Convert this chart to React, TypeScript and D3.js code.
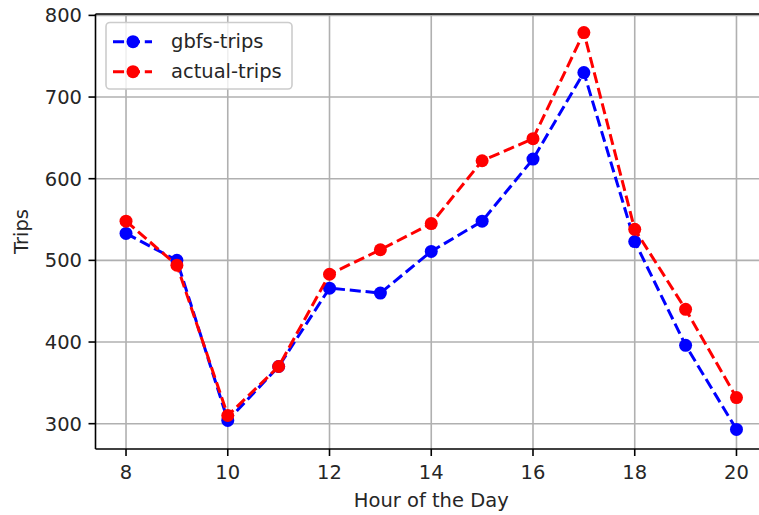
import React from "react";
import * as d3 from "d3";

const hours = [8, 9, 10, 11, 12, 13, 14, 15, 16, 17, 18, 19, 20];
const gbfsTrips = [533, 500, 304, 370, 466, 460, 511, 548, 624, 730, 523, 396, 293];
const actualTrips = [548, 494, 310, 370, 483, 513, 545, 622, 649, 779, 538, 440, 332];
const xTicks = [8, 10, 12, 14, 16, 18, 20];
const yTicks = [300, 400, 500, 600, 700, 800];

const W = 759;
const H = 515;
const FONT = "DejaVu Sans, sans-serif";
const TEXT = "#262626";

export default function App() {
  // axes box, right edge falls outside the picture
  const left = 95.5, right = 767, top = 14, bottom = 449;
  const x = d3.scaleLinear().domain([7.4, 20.6]).range([left, right]);
  const y = d3.scaleLinear().domain([269, 801.7]).range([bottom, top]);

  const line = d3.line<number>()
    .x((_, i) => x(hours[i]))
    .y((d) => y(d));

  const series = [
    { name: "gbfs-trips", values: gbfsTrips, color: "#0000ff" },
    { name: "actual-trips", values: actualTrips, color: "#ff0000" },
  ];

  const dash = "11.1,4.8";

  return (
    <svg width={W} height={H} style={{ position: "absolute", left: 0, top: 0, background: "#fff" }}
      fontFamily={FONT}>
      <defs>
        <clipPath id="plot">
          <rect x={left} y={top} width={right - left} height={bottom - top} />
        </clipPath>
      </defs>

      {/* grid */}
      <g stroke="#b0b0b0" strokeWidth={1.6}>
        {xTicks.map((t) => (
          <line key={"gx" + t} x1={x(t)} x2={x(t)} y1={top} y2={bottom} />
        ))}
        {yTicks.map((t) => (
          <line key={"gy" + t} x1={left} x2={right} y1={y(t)} y2={y(t)} />
        ))}
      </g>

      {/* data */}
      <g clipPath="url(#plot)">
        {series.map((s) => (
          <g key={s.name}>
            <path d={line(s.values) || ""} fill="none" stroke={s.color} strokeWidth={3}
              strokeDasharray={dash} />
            {s.values.map((v, i) => (
              <circle key={i} cx={x(hours[i])} cy={y(v)} r={6.5} fill={s.color} />
            ))}
          </g>
        ))}
      </g>

      {/* spines */}
      <g stroke="#000" strokeWidth={1.6} fill="none">
        <line x1={left} x2={left} y1={top} y2={bottom} />
        <line x1={left} x2={right} y1={bottom} y2={bottom} />
        <line x1={left} x2={right} y1={top} y2={top} />
        <line x1={right} x2={right} y1={top} y2={bottom} />
      </g>

      {/* x axis */}
      {xTicks.map((t) => (
        <g key={"xt" + t}>
          <line x1={x(t)} x2={x(t)} y1={bottom} y2={bottom + 7} stroke="#000" strokeWidth={1.6} />
          <text x={x(t)} y={478.5} textAnchor="middle" fontSize={19.5} fill={TEXT}>{t}</text>
        </g>
      ))}
      <text x={(left + right) / 2} y={506.5} textAnchor="middle" fontSize={19.5} fill={TEXT}>
        Hour of the Day
      </text>

      {/* y axis */}
      {yTicks.map((t) => (
        <g key={"yt" + t}>
          <line x1={left - 7} x2={left} y1={y(t)} y2={y(t)} stroke="#000" strokeWidth={1.6} />
          <text x={82} y={y(t)} dy="0.36em" textAnchor="end" fontSize={19.5} fill={TEXT}>{t}</text>
        </g>
      ))}
      <text transform={`translate(27.5, ${(top + bottom) / 2}) rotate(-90)`} textAnchor="middle"
        fontSize={19.5} fill={TEXT}>
        Trips
      </text>

      {/* legend */}
      <rect x={106} y={22.5} width={186} height={66.5} rx={4} fill="#fff" fillOpacity={0.8}
        stroke="#cccccc" strokeWidth={1.6} />
      {series.map((s, i) => {
        const cy = 41.7 + i * 30;
        return (
          <g key={"lg" + s.name}>
            <line x1={113} x2={152} y1={cy} y2={cy} stroke={s.color} strokeWidth={3}
              strokeDasharray={dash} />
            <circle cx={133} cy={cy} r={6.5} fill={s.color} />
            <text x={171} y={cy + 6.7} fontSize={19.5} fill={TEXT}>{s.name}</text>
          </g>
        );
      })}
    </svg>
  );
}
